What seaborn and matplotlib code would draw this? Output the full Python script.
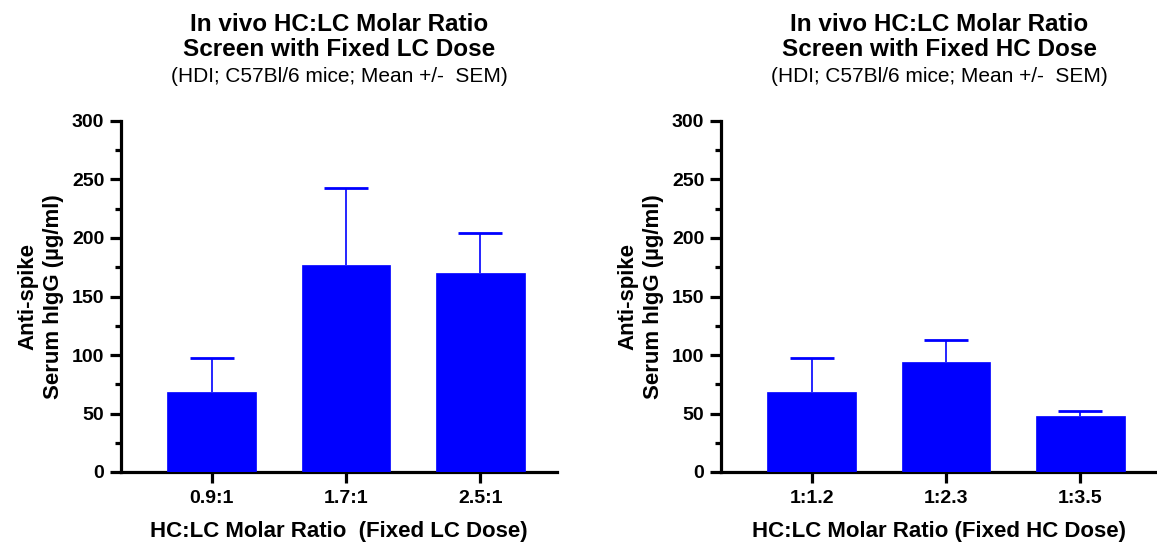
import matplotlib
matplotlib.use("Agg")
import matplotlib.pyplot as plt
import seaborn as sns
import numpy as np
import pandas as pd
from matplotlib.ticker import MultipleLocator

# ---- data ----
left_categories = ["0.9:1", "1.7:1", "2.5:1"]
left_means = [68, 177, 170]
left_sem = [29.5, 66, 34]

right_categories = ["1:1.2", "1:2.3", "1:3.5"]
right_means = [68, 94, 47.5]
right_sem = [29.5, 19, 5]

left_title = "In vivo HC:LC Molar Ratio\nScreen with Fixed LC Dose"
right_title = "In vivo HC:LC Molar Ratio\nScreen with Fixed HC Dose"
subtitle = "(HDI; C57Bl/6 mice; Mean +/-  SEM)"
ylabel = "Anti-spike\nSerum hIgG (µg/ml)"
left_xlabel = "HC:LC Molar Ratio  (Fixed LC Dose)"
right_xlabel = "HC:LC Molar Ratio (Fixed HC Dose)"

sns.set_theme(style="ticks")
plt.rcParams["font.family"] = ["Liberation Sans", "DejaVu Sans"]
plt.rcParams["text.color"] = "black"
plt.rcParams["axes.labelcolor"] = "black"
plt.rcParams["xtick.color"] = "black"
plt.rcParams["ytick.color"] = "black"

BLUE = "#0000FF"
W, H = 1157, 545
fig = plt.figure(figsize=(W / 100, H / 100), dpi=100)

panels = [
    (121, left_categories, left_means, left_sem, left_title, left_xlabel),
    (721, right_categories, right_means, right_sem, right_title, right_xlabel),
]

for x0, cats, means, sems, title, xlabel in panels:
    ax = fig.add_axes([x0 / W, (H - 472) / H, 436 / W, 351 / H])
    df = pd.DataFrame({"cat": cats, "val": means})
    sns.barplot(data=df, x="cat", y="val", color=BLUE, saturation=1,
                width=0.66, errorbar=None, ax=ax, zorder=3,
                edgecolor=BLUE, linewidth=0.5)
    pos = np.arange(len(cats))
    eb = ax.errorbar(pos, means, yerr=[np.zeros(len(sems)), sems], fmt="none",
                     ecolor=BLUE, elinewidth=1.2, capsize=16, capthick=2,
                     zorder=2)
    caplines = eb[1]
    caplines[0].set_visible(False)  # hide lower caps (upper-only SEM)
    ax.set_ylim(0, 300)
    ax.set_xlim(-0.674, 2.57)
    ax.yaxis.set_major_locator(MultipleLocator(50))
    ax.yaxis.set_minor_locator(MultipleLocator(25))
    for s in ["top", "right"]:
        ax.spines[s].set_visible(False)
    for s in ["left", "bottom"]:
        ax.spines[s].set_linewidth(2.3)
        ax.spines[s].set_color("black")
    ax.tick_params(axis="both", which="major", length=8, width=2.3,
                   color="black", labelcolor="black", labelsize=14, pad=4)
    ax.tick_params(axis="y", which="minor", length=4.5, width=2.3, color="black")
    ax.tick_params(axis="x", which="major", pad=5)
    for lab in ax.get_xticklabels() + ax.get_yticklabels():
        lab.set_fontweight("bold")
    ax.set_ylabel(ylabel, fontsize=16, fontweight="bold", labelpad=6,
                  linespacing=1.25, color="black")
    ax.set_xlabel(xlabel, fontsize=16, fontweight="bold", labelpad=10,
                  color="black")
    xc = (x0 + 218) / W
    fig.text(xc, 1 - 37 / H, title, ha="center", va="center", fontsize=17.5,
             fontweight="bold", linespacing=1.1, color="black")
    fig.text(xc, 1 - 76 / H, subtitle, ha="center", va="center", fontsize=15,
             color="black")

fig.savefig("out.png", dpi=100)
